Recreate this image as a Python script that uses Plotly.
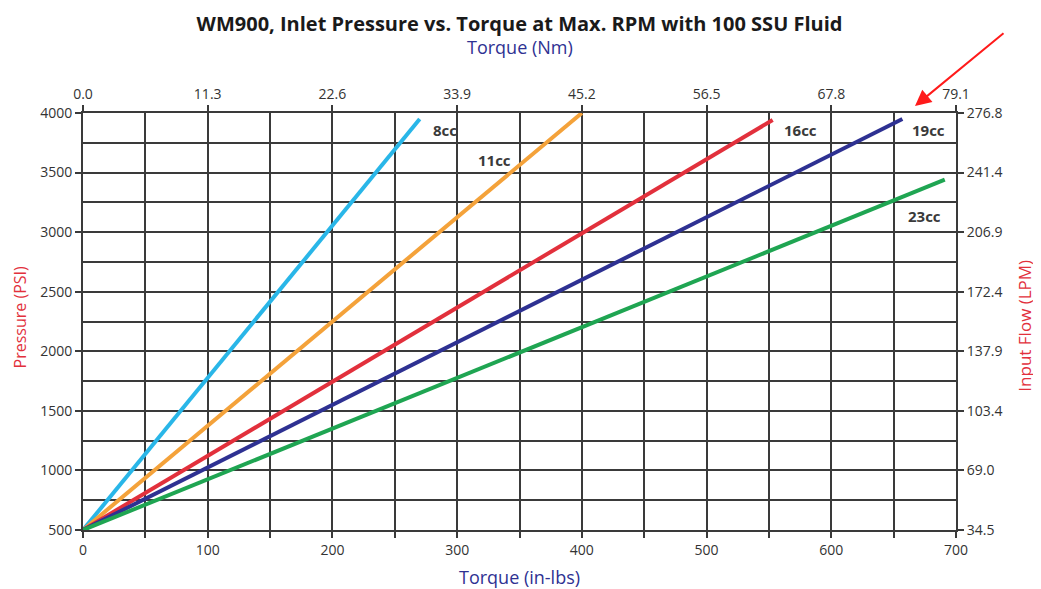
import plotly.graph_objects as go

# Data
series_names = ["8cc", "11cc", "16cc", "19cc", "23cc"]
series_colors = ["#29b6e8", "#f4a23a", "#e2303c", "#2e3192", "#1fa552"]
torque_start = [0, 0, 0, 0, 0]
pressure_start = [500, 500, 500, 500, 500]
torque_end = [270, 400, 553, 657, 691]
pressure_end = [3950, 4000, 3942, 3950, 3440]

label_x = [290, 330, 575, 678, 675]
label_y = [3858, 3607, 3858, 3858, 3136]

bottom_ticks = [0, 100, 200, 300, 400, 500, 600, 700]
top_ticktext = ["0.0", "11.3", "22.6", "33.9", "45.2", "56.5", "67.8", "79.1"]
left_ticks = [500, 1000, 1500, 2000, 2500, 3000, 3500, 4000]
right_ticktext = ["34.5", "69.0", "103.4", "137.9", "172.4", "206.9", "241.4", "276.8"]

FONT = "Open Sans, sans-serif"
GRID = "#3a3a3a"
TICKC = "#333333"

fig = go.Figure()
for i, name in enumerate(series_names):
    fig.add_trace(go.Scatter(
        x=[torque_start[i], torque_end[i]],
        y=[pressure_start[i], pressure_end[i]],
        mode="lines", name=name,
        line=dict(color=series_colors[i], width=4),
        showlegend=False, hoverinfo="skip"))

# invisible trace for secondary axes
fig.add_trace(go.Scatter(x=[0], y=[500], xaxis="x2", yaxis="y2", mode="markers",
                         marker=dict(opacity=0), showlegend=False, hoverinfo="skip"))

for i, name in enumerate(series_names):
    fig.add_annotation(x=label_x[i], y=label_y[i], text="<b>" + name + "</b>",
                       showarrow=False, font=dict(family=FONT, size=15, color="#3a3a3a"))

axis_common = dict(showline=True, linecolor=GRID, linewidth=2, mirror=False,
                   tickfont=dict(family=FONT, size=14, color=TICKC),
                   ticks="outside", ticklen=6, tickcolor=GRID, tickwidth=2, zeroline=False)

# the page body has an 8px margin; size the figure so the plot area lands where the reference has it
fig.update_layout(
    width=1033, height=581,
    margin=dict(l=75, r=85, t=105, b=59),
    paper_bgcolor="white", plot_bgcolor="white",
    title=dict(text="<b>WM900, Inlet Pressure vs. Torque at Max. RPM with 100 SSU Fluid</b>",
               x=0.5, xanchor="center", xref="paper", y=0.973, yanchor="middle",
               font=dict(family=FONT, size=20, color="#1a1a1a")),
    xaxis=dict(range=[0, 700], tickvals=bottom_ticks, showgrid=True, gridcolor=GRID, gridwidth=2,
               minor=dict(dtick=50, showgrid=True, gridcolor=GRID, gridwidth=2, ticks="outside",
                          ticklen=6, tickcolor=GRID, tickwidth=2),
               **axis_common),
    yaxis=dict(range=[500, 4000], tickvals=left_ticks, showgrid=True, gridcolor=GRID, gridwidth=2,
               minor=dict(dtick=250, showgrid=True, gridcolor=GRID, gridwidth=2),
               **axis_common),
    xaxis2=dict(range=[0, 700], overlaying="x", side="top", tickvals=bottom_ticks,
                ticktext=top_ticktext, showgrid=False, **axis_common),
    yaxis2=dict(range=[500, 4000], overlaying="y", side="right", tickvals=left_ticks,
                ticktext=right_ticktext, showgrid=False, **axis_common),
)

# axis titles
fig.add_annotation(xref="paper", yref="paper", x=0.5, y=-0.1127, yanchor="middle",
                   text="Torque (in-lbs)", showarrow=False,
                   font=dict(family=FONT, size=18, color="#2e3192"))
fig.add_annotation(xref="paper", yref="paper", x=0.5, y=1.158, yanchor="middle",
                   text="Torque (Nm)", showarrow=False,
                   font=dict(family=FONT, size=18, color="#2e3192"))
fig.add_annotation(xref="paper", yref="paper", x=-0.072, y=0.51, xanchor="center",
                   text="Pressure (PSI)", showarrow=False, textangle=-90,
                   font=dict(family=FONT, size=16, color="#e2303c"))
fig.add_annotation(xref="paper", yref="paper", x=1.079, y=0.49, xanchor="center",
                   text="Input Flow (LPM)", showarrow=False, textangle=-90,
                   font=dict(family=FONT, size=17, color="#e2303c"))

# red arrow
fig.add_annotation(xref="paper", yref="paper", x=(915 - 83) / 873, y=(530 - 106) / 417,
                   ax=90, ay=-74, axref="pixel", ayref="pixel", text="", showarrow=True,
                   arrowhead=2, arrowsize=1.6, arrowwidth=2, arrowcolor="#ff1a1a")

fig.write_html("out.html")
